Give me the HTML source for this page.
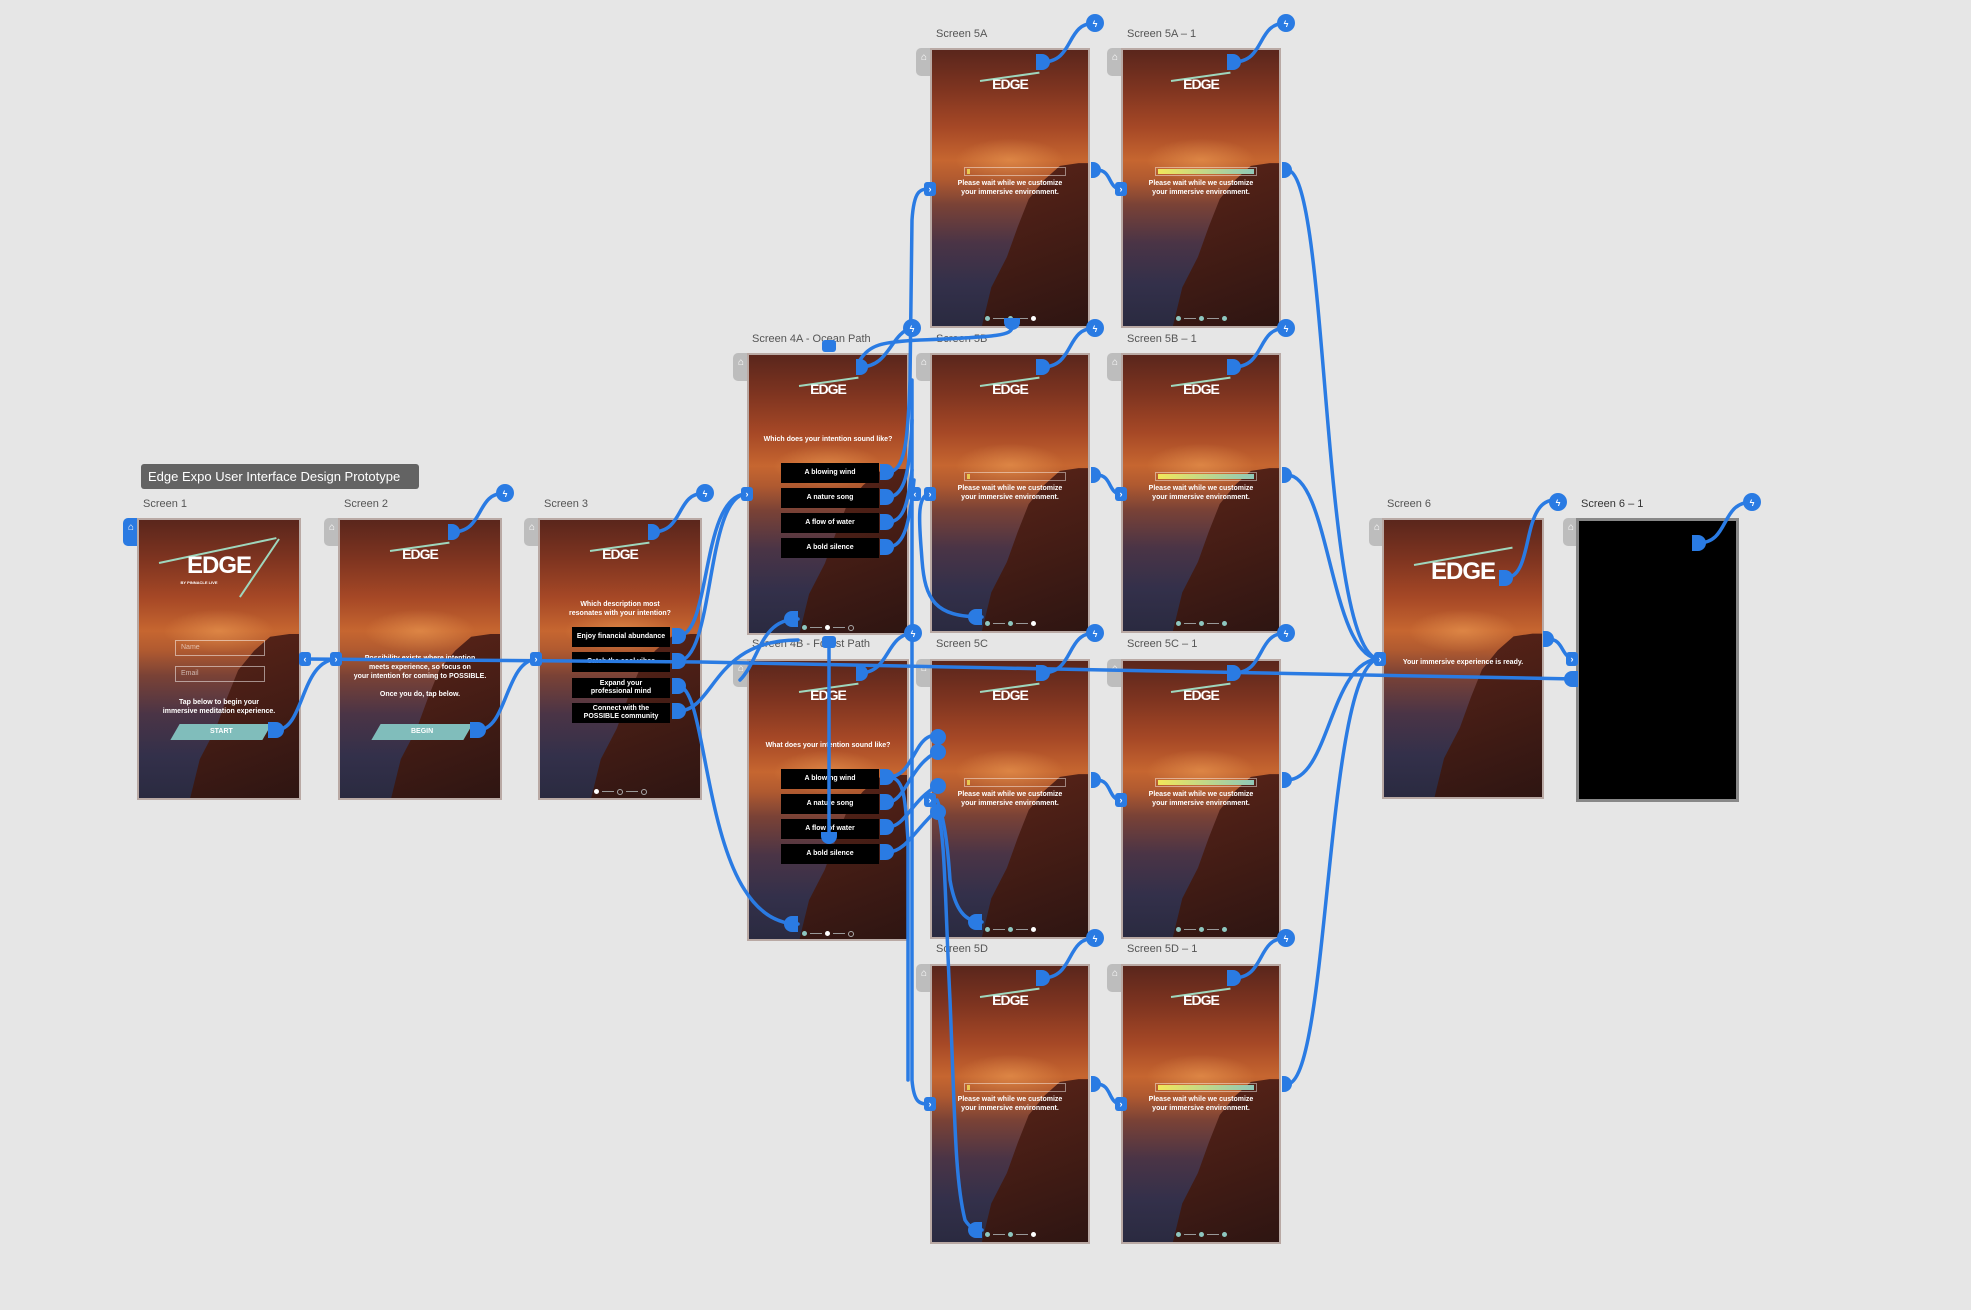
<!DOCTYPE html>
<html><head><meta charset="utf-8">
<style>
html,body{margin:0;padding:0}
body{width:1971px;height:1310px;background:#e6e6e6;position:relative;overflow:hidden;font-family:"Liberation Sans",sans-serif}
.lbl{position:absolute;font-size:11px;color:#555;white-space:nowrap}
.scr{position:absolute;width:160px;height:280px;overflow:hidden;border:2px solid #b9a9a4;box-sizing:border-box;
background:linear-gradient(180deg,#5a261c 0%,#7e3420 14%,#a64826 28%,#c66630 40%,#b05a30 47%,#7a4236 56%,#4a3446 70%,#33304a 85%,#2a2a40 100%)}
.scr .rock{position:absolute;left:0;top:0;width:100%;height:100%;
background:linear-gradient(160deg,#8a3a26 0%,#5a2418 40%,#2e1512 100%);
clip-path:polygon(94% 41%,82% 42%,72% 47%,62% 54%,55% 64%,48% 75%,38% 86%,32% 100%,100% 100%,100% 41%)}
.scr .glow{position:absolute;left:15%;top:32%;width:70%;height:16%;background:radial-gradient(ellipse at center,rgba(255,180,100,.4),rgba(255,150,60,0) 70%)}
.logo{position:absolute;left:0;width:100%;text-align:center;color:#fff;font-weight:bold;letter-spacing:-1px}
.slash{position:absolute;height:2px;background:#9fd7bd;transform-origin:left center}
.txt{position:absolute;left:0;width:100%;text-align:center;color:#fff;font-weight:bold;font-size:7px;line-height:9px}
.bar{position:absolute;left:32px;width:102px;height:9px;border:1px solid rgba(255,255,255,.45);box-sizing:border-box}
.bar i{position:absolute;left:2px;top:1px;bottom:1px;width:3px;background:#e8c850}
.bar.full i{width:96px;background:linear-gradient(90deg,#f2e75a,#8fc8b8)}
.dots{position:absolute;left:0;width:100%;top:260px;height:6px;text-align:center}
.dots span{display:inline-block;width:5px;height:5px;border-radius:50%;background:#8ec7c0;vertical-align:middle}
.dots em{display:inline-block;width:12px;height:1px;background:#999;vertical-align:middle;margin:0 3px}
.dots span.w{background:#fff}
.dots span.o{background:none;border:1px solid #aaa;width:4px;height:4px}
.btn{position:absolute;left:32px;width:98px;height:20px;background:#000;color:#fff;font-weight:bold;font-size:7px;line-height:20px;text-align:center}
.btn2{line-height:8px;padding-top:2px;box-sizing:border-box}
.home{position:absolute;width:16px;height:28px;background:#bdbdbd;border-radius:5px 0 0 5px;color:#fff;font-size:10px;text-align:center;line-height:20px}
.title{position:absolute;left:141px;top:464px;width:278px;height:25px;background:#636363;border-radius:3px;color:#fff;font-size:13px;line-height:25px;text-indent:7px;white-space:nowrap;overflow:hidden}
.field{position:absolute;left:36px;width:90px;height:16px;border:1px solid rgba(255,255,255,.5);box-sizing:border-box;color:rgba(255,255,255,.6);font-size:7px;line-height:14px;text-indent:5px}
.go{position:absolute;left:36px;width:92px;height:16px;background:#80bdbb;color:#fff;font-weight:bold;font-size:7px;line-height:16px;text-align:center;transform:skewX(-30deg)}
.go span{display:inline-block;transform:skewX(30deg)}
svg{position:absolute;left:0;top:0}
</style></head><body>

<div class="title">Edge Expo User Interface Design Prototype</div>

<div class="lbl" style="left:143px;top:498px">Screen 1</div>
<div class="lbl" style="left:344px;top:498px">Screen 2</div>
<div class="lbl" style="left:544px;top:498px">Screen 3</div>
<div class="lbl" style="left:752px;top:333px">Screen 4A - Ocean Path</div>
<div class="lbl" style="left:752px;top:638px">Screen 4B - Forest Path</div>
<div class="lbl" style="left:936px;top:28px">Screen 5A</div>
<div class="lbl" style="left:1127px;top:28px">Screen 5A – 1</div>
<div class="lbl" style="left:936px;top:333px">Screen 5B</div>
<div class="lbl" style="left:1127px;top:333px">Screen 5B – 1</div>
<div class="lbl" style="left:936px;top:638px">Screen 5C</div>
<div class="lbl" style="left:1127px;top:638px">Screen 5C – 1</div>
<div class="lbl" style="left:936px;top:943px">Screen 5D</div>
<div class="lbl" style="left:1127px;top:943px">Screen 5D – 1</div>
<div class="lbl" style="left:1387px;top:498px">Screen 6</div>
<div class="lbl" style="left:1581px;top:498px;color:#333">Screen 6 – 1</div>

<div class="home" style="left:123px;top:518px;background:#2a7ae2">⌂</div>
<div class="home" style="left:324px;top:518px">⌂</div>
<div class="home" style="left:524px;top:518px">⌂</div>
<div class="home" style="left:733px;top:353px">⌂</div>
<div class="home" style="left:733px;top:659px">⌂</div>
<div class="home" style="left:916px;top:48px">⌂</div>
<div class="home" style="left:1107px;top:48px">⌂</div>
<div class="home" style="left:916px;top:353px">⌂</div>
<div class="home" style="left:1107px;top:353px">⌂</div>
<div class="home" style="left:916px;top:659px">⌂</div>
<div class="home" style="left:1107px;top:659px">⌂</div>
<div class="home" style="left:916px;top:964px">⌂</div>
<div class="home" style="left:1107px;top:964px">⌂</div>
<div class="home" style="left:1369px;top:518px">⌂</div>
<div class="home" style="left:1563px;top:518px">⌂</div>

<div class="scr" style="left:137px;top:518px;width:164px;height:282px">
<div class="glow"></div><div class="rock"></div>
<div class="slash" style="left:20px;top:42px;width:120px;transform:rotate(-12deg)"></div>
<div class="slash" style="left:140px;top:18px;width:70px;transform:rotate(124deg)"></div>
<div class="logo" style="top:32px;font-size:24px">EDGE</div>
<div class="txt" style="top:58px;font-size:4px;left:-20px">BY PINNACLE LIVE</div>
<div class="field" style="top:120px">Name</div>
<div class="field" style="top:146px">Email</div>
<div class="txt" style="top:178px">Tap below to begin your<br>immersive meditation experience.</div>
<div class="go" style="top:204px"><span>START</span></div>
</div>

<div class="scr" style="left:338px;top:518px;width:164px;height:282px">
<div class="glow"></div><div class="rock"></div>
<div class="slash" style="left:50px;top:30px;width:60px;transform:rotate(-8deg)"></div>
<div class="logo" style="top:26px;font-size:14px">EDGE</div>
<div class="txt" style="top:134px">Possibility exists where intention<br>meets experience, so focus on<br>your intention for coming to POSSIBLE.<br><br>Once you do, tap below.</div>
<div class="go" style="top:204px"><span>BEGIN</span></div>
</div>

<div class="scr" style="left:538px;top:518px;width:164px;height:282px">
<div class="glow"></div><div class="rock"></div>
<div class="slash" style="left:50px;top:30px;width:60px;transform:rotate(-8deg)"></div>
<div class="logo" style="top:26px;font-size:14px">EDGE</div>
<div class="txt" style="top:80px">Which description most<br>resonates with your intention?</div>
<div class="btn" style="top:107px">Enjoy financial abundance</div>
<div class="btn" style="top:132px">Catch the cool vibes</div>
<div class="btn btn2" style="top:158px">Expand your<br>professional mind</div>
<div class="btn btn2" style="top:183px">Connect with the<br>POSSIBLE community</div>
<div class="dots" style="top:263px"><span class="w"></span><em></em><span class="o"></span><em></em><span class="o"></span></div>
</div>

<div class="scr" style="left:747px;top:353px;width:162px;height:282px">
<div class="glow"></div><div class="rock"></div>
<div class="slash" style="left:50px;top:30px;width:60px;transform:rotate(-8deg)"></div>
<div class="logo" style="top:26px;font-size:14px">EDGE</div>
<div class="txt" style="top:80px">Which does your intention sound like?</div>
<div class="btn" style="top:108px">A blowing wind</div>
<div class="btn" style="top:133px">A nature song</div>
<div class="btn" style="top:158px">A flow of water</div>
<div class="btn" style="top:183px">A bold silence</div>
<div class="dots" style="top:264px"><span></span><em></em><span class="w"></span><em></em><span class="o"></span></div>
</div>

<div class="scr" style="left:747px;top:659px;width:162px;height:282px">
<div class="glow"></div><div class="rock"></div>
<div class="slash" style="left:50px;top:30px;width:60px;transform:rotate(-8deg)"></div>
<div class="logo" style="top:26px;font-size:14px">EDGE</div>
<div class="txt" style="top:80px">What does your intention sound like?</div>
<div class="btn" style="top:108px">A blowing wind</div>
<div class="btn" style="top:133px">A nature song</div>
<div class="btn" style="top:158px">A flow of water</div>
<div class="btn" style="top:183px">A bold silence</div>
<div class="dots" style="top:264px"><span></span><em></em><span class="w"></span><em></em><span class="o"></span></div>
</div>

<div class="scr" style="left:930px;top:48px"><div class="glow"></div><div class="rock"></div><div class="slash" style="left:48px;top:30px;width:60px;transform:rotate(-8deg)"></div><div class="logo" style="top:26px;font-size:14px">EDGE</div><div class="bar" style="top:117px"><i></i></div><div class="txt" style="top:129px">Please wait while we customize<br>your immersive environment.</div><div class="dots"><span></span><em></em><span></span><em></em><span class="w"></span></div></div>
<div class="scr" style="left:1121px;top:48px"><div class="glow"></div><div class="rock"></div><div class="slash" style="left:48px;top:30px;width:60px;transform:rotate(-8deg)"></div><div class="logo" style="top:26px;font-size:14px">EDGE</div><div class="bar full" style="top:117px"><i></i></div><div class="txt" style="top:129px">Please wait while we customize<br>your immersive environment.</div><div class="dots"><span></span><em></em><span></span><em></em><span></span></div></div>
<div class="scr" style="left:930px;top:353px"><div class="glow"></div><div class="rock"></div><div class="slash" style="left:48px;top:30px;width:60px;transform:rotate(-8deg)"></div><div class="logo" style="top:26px;font-size:14px">EDGE</div><div class="bar" style="top:117px"><i></i></div><div class="txt" style="top:129px">Please wait while we customize<br>your immersive environment.</div><div class="dots"><span></span><em></em><span></span><em></em><span class="w"></span></div></div>
<div class="scr" style="left:1121px;top:353px"><div class="glow"></div><div class="rock"></div><div class="slash" style="left:48px;top:30px;width:60px;transform:rotate(-8deg)"></div><div class="logo" style="top:26px;font-size:14px">EDGE</div><div class="bar full" style="top:117px"><i></i></div><div class="txt" style="top:129px">Please wait while we customize<br>your immersive environment.</div><div class="dots"><span></span><em></em><span></span><em></em><span></span></div></div>
<div class="scr" style="left:930px;top:659px"><div class="glow"></div><div class="rock"></div><div class="slash" style="left:48px;top:30px;width:60px;transform:rotate(-8deg)"></div><div class="logo" style="top:26px;font-size:14px">EDGE</div><div class="bar" style="top:117px"><i></i></div><div class="txt" style="top:129px">Please wait while we customize<br>your immersive environment.</div><div class="dots"><span></span><em></em><span></span><em></em><span class="w"></span></div></div>
<div class="scr" style="left:1121px;top:659px"><div class="glow"></div><div class="rock"></div><div class="slash" style="left:48px;top:30px;width:60px;transform:rotate(-8deg)"></div><div class="logo" style="top:26px;font-size:14px">EDGE</div><div class="bar full" style="top:117px"><i></i></div><div class="txt" style="top:129px">Please wait while we customize<br>your immersive environment.</div><div class="dots"><span></span><em></em><span></span><em></em><span></span></div></div>
<div class="scr" style="left:930px;top:964px"><div class="glow"></div><div class="rock"></div><div class="slash" style="left:48px;top:30px;width:60px;transform:rotate(-8deg)"></div><div class="logo" style="top:26px;font-size:14px">EDGE</div><div class="bar" style="top:117px"><i></i></div><div class="txt" style="top:129px">Please wait while we customize<br>your immersive environment.</div><div class="dots"><span></span><em></em><span></span><em></em><span class="w"></span></div></div>
<div class="scr" style="left:1121px;top:964px"><div class="glow"></div><div class="rock"></div><div class="slash" style="left:48px;top:30px;width:60px;transform:rotate(-8deg)"></div><div class="logo" style="top:26px;font-size:14px">EDGE</div><div class="bar full" style="top:117px"><i></i></div><div class="txt" style="top:129px">Please wait while we customize<br>your immersive environment.</div><div class="dots"><span></span><em></em><span></span><em></em><span></span></div></div>

<div class="scr" style="left:1382px;top:518px;width:162px;height:281px">
<div class="glow"></div><div class="rock"></div>
<div class="slash" style="left:30px;top:44px;width:100px;transform:rotate(-10deg)"></div>
<div class="logo" style="top:38px;font-size:24px">EDGE</div>
<div class="txt" style="top:138px">Your immersive experience is ready.</div>
</div>

<div style="position:absolute;left:1576px;top:518px;width:163px;height:284px;background:#000;border:3px solid #888;box-sizing:border-box"></div>

<svg width="1971" height="1310" viewBox="0 0 1971 1310">
<g fill="none" stroke="#2a7be3" stroke-width="3.5" stroke-linecap="round">
<path d="M305 659 L700 662 L1000 668 L1576 679"/>
<path d="M276 730 C305 730 300 659 338 659"/>
<path d="M478 730 C508 730 505 659 538 659"/>
<path d="M678 636 C712 636 700 494 747 494"/>
<path d="M678 661 C715 661 705 494 747 494"/>
<path d="M678 686 C712 686 700 924 798 924"/>
<path d="M678 711 C715 711 712 640 798 640"/>
<path d="M798 619 C760 619 760 660 740 680"/>
<path d="M888 472 C905 472 908 440 910 380 L912 220 C914 190 920 189 930 189"/>
<path d="M888 497 C905 497 910 470 912 420"/>
<path d="M888 522 C905 522 908 500 912 470"/>
<path d="M888 547 C905 547 910 520 914 480"/>
<path d="M912 380 L912 1080 C914 1104 920 1104 930 1104"/>
<path d="M888 777 C905 777 910 760 920 745 C925 738 930 735 937 735"/>
<path d="M888 802 C905 802 910 765 937 752"/>
<path d="M888 827 C905 827 912 800 937 786"/>
<path d="M888 852 C905 852 915 830 937 810"/>
<path d="M888 777 C905 777 905 800 908 840 L908 1080"/>
<path d="M937 810 C945 830 945 900 950 1000 C955 1120 955 1180 965 1220 C970 1228 975 1230 982 1230"/>
<path d="M937 800 C945 820 948 850 950 880 C955 910 965 922 982 922"/>
<path d="M930 494 C915 494 920 530 922 560 C925 600 935 617 982 617"/>
<path d="M829 645 L829 840"/>
<path d="M1012 327 C1012 335 1000 337 920 340 C880 342 870 345 860 360"/>
<path d="M1097 170 C1112 170 1108 189 1121 189"/>
<path d="M1097 475 C1112 475 1108 494 1121 494"/>
<path d="M1097 780 C1112 780 1108 800 1121 800"/>
<path d="M1097 1084 C1112 1084 1108 1104 1121 1104"/>
<path d="M1287 170 C1330 170 1320 659 1380 659"/>
<path d="M1287 475 C1330 475 1330 659 1380 659"/>
<path d="M1287 780 C1330 780 1330 659 1380 659"/>
<path d="M1287 1084 C1330 1084 1325 659 1380 659"/>
<path d="M1548 639 C1565 639 1560 659 1576 659"/>
<path d="M1042 62 C1075 62 1065 23 1095 23"/>
<path d="M1233 62 C1266 62 1256 23 1286 23"/>
<path d="M1042 367 C1075 367 1065 328 1095 328"/>
<path d="M1233 367 C1266 367 1256 328 1286 328"/>
<path d="M1042 673 C1075 673 1065 633 1095 633"/>
<path d="M1233 673 C1266 673 1256 633 1286 633"/>
<path d="M1042 978 C1075 978 1065 938 1095 938"/>
<path d="M1233 978 C1266 978 1256 938 1286 938"/>
<path d="M452 532 C485 532 475 493 505 493"/>
<path d="M652 532 C685 532 675 493 705 493"/>
<path d="M860 367 C890 367 890 333 912 328"/>
<path d="M860 673 C890 673 885 635 913 633"/>
<path d="M1505 578 C1535 578 1520 500 1555 500"/>
<path d="M1698 543 C1730 543 1720 502 1752 502"/>
</g>
<g fill="#2a7be3">
<path d="M268 722 h8 a8 8 0 0 1 0 16 h-8z"/>
<path d="M470 722 h8 a8 8 0 0 1 0 16 h-8z"/>
<path d="M448 524 h4 a8 8 0 0 1 0 16 h-4z"/>
<path d="M648 524 h4 a8 8 0 0 1 0 16 h-4z"/>
<path d="M672 628 h6 a8 8 0 0 1 0 16 h-6z"/><path d="M672 653 h6 a8 8 0 0 1 0 16 h-6z"/>
<path d="M672 678 h6 a8 8 0 0 1 0 16 h-6z"/><path d="M672 703 h6 a8 8 0 0 1 0 16 h-6z"/>
<path d="M880 464 h6 a8 8 0 0 1 0 16 h-6z"/><path d="M880 489 h6 a8 8 0 0 1 0 16 h-6z"/>
<path d="M880 514 h6 a8 8 0 0 1 0 16 h-6z"/><path d="M880 539 h6 a8 8 0 0 1 0 16 h-6z"/>
<path d="M880 769 h6 a8 8 0 0 1 0 16 h-6z"/><path d="M880 794 h6 a8 8 0 0 1 0 16 h-6z"/>
<path d="M880 819 h6 a8 8 0 0 1 0 16 h-6z"/><path d="M880 844 h6 a8 8 0 0 1 0 16 h-6z"/>
<path d="M856 359 h4 a8 8 0 0 1 0 16 h-4z"/>
<path d="M856 665 h4 a8 8 0 0 1 0 16 h-4z"/>
<path d="M1036 54 h6 a8 8 0 0 1 0 16 h-6z"/><path d="M1227 54 h6 a8 8 0 0 1 0 16 h-6z"/>
<path d="M1036 359 h6 a8 8 0 0 1 0 16 h-6z"/><path d="M1227 359 h6 a8 8 0 0 1 0 16 h-6z"/>
<path d="M1036 665 h6 a8 8 0 0 1 0 16 h-6z"/><path d="M1227 665 h6 a8 8 0 0 1 0 16 h-6z"/>
<path d="M1036 970 h6 a8 8 0 0 1 0 16 h-6z"/><path d="M1227 970 h6 a8 8 0 0 1 0 16 h-6z"/>
<path d="M1091 162 h2 a8 8 0 0 1 0 16 h-2z"/><path d="M1282 162 h2 a8 8 0 0 1 0 16 h-2z"/>
<path d="M1091 467 h2 a8 8 0 0 1 0 16 h-2z"/><path d="M1282 467 h2 a8 8 0 0 1 0 16 h-2z"/>
<path d="M1091 772 h2 a8 8 0 0 1 0 16 h-2z"/><path d="M1282 772 h2 a8 8 0 0 1 0 16 h-2z"/>
<path d="M1091 1076 h2 a8 8 0 0 1 0 16 h-2z"/><path d="M1282 1076 h2 a8 8 0 0 1 0 16 h-2z"/>
<path d="M1499 570 h6 a8 8 0 0 1 0 16 h-6z"/>
<path d="M1692 535 h6 a8 8 0 0 1 0 16 h-6z"/>
<path d="M1543 631 h3 a8 8 0 0 1 0 16 h-3z"/>
<path d="M1004 318 h16 v4 a8 8 0 0 1 -16 0z"/>
<path d="M976 609 h6 v16 h-6 a8 8 0 0 1 0 -16z"/>
<path d="M976 914 h6 v16 h-6 a8 8 0 0 1 0 -16z"/>
<path d="M976 1222 h6 v16 h-6 a8 8 0 0 1 0 -16z"/>
<path d="M792 611 h6 v16 h-6 a8 8 0 0 1 0 -16z"/>
<path d="M792 916 h6 v16 h-6 a8 8 0 0 1 0 -16z"/>
<path d="M821 832 h16 v4 a8 8 0 0 1 -16 0z"/>
<path d="M1572 671 h6 v16 h-6 a8 8 0 0 1 0 -16z"/>
<rect x="299" y="652" width="12" height="14" rx="3"/>
<rect x="330" y="652" width="12" height="14" rx="3"/>
<rect x="530" y="652" width="12" height="14" rx="3"/>
<rect x="741" y="487" width="12" height="14" rx="3"/>
<rect x="909" y="487" width="12" height="14" rx="3"/>
<rect x="924" y="182" width="12" height="14" rx="3"/><rect x="1115" y="182" width="12" height="14" rx="3"/>
<rect x="924" y="487" width="12" height="14" rx="3"/><rect x="1115" y="487" width="12" height="14" rx="3"/>
<rect x="924" y="793" width="12" height="14" rx="3"/><rect x="1115" y="793" width="12" height="14" rx="3"/>
<rect x="924" y="1097" width="12" height="14" rx="3"/><rect x="1115" y="1097" width="12" height="14" rx="3"/>
<rect x="1374" y="652" width="12" height="14" rx="3"/>
<rect x="1566" y="652" width="12" height="14" rx="3"/>
<rect x="822" y="340" width="14" height="12" rx="3"/>
<rect x="822" y="636" width="14" height="12" rx="3"/>
<circle cx="1095" cy="23" r="9"/><circle cx="1286" cy="23" r="9"/>
<circle cx="1095" cy="328" r="9"/><circle cx="1286" cy="328" r="9"/>
<circle cx="1095" cy="633" r="9"/><circle cx="1286" cy="633" r="9"/>
<circle cx="1095" cy="938" r="9"/><circle cx="1286" cy="938" r="9"/>
<circle cx="505" cy="493" r="9"/><circle cx="705" cy="493" r="9"/>
<circle cx="912" cy="328" r="9"/><circle cx="913" cy="633" r="9"/>
<circle cx="1558" cy="502" r="9"/><circle cx="1752" cy="502" r="9"/>
<circle cx="938" cy="737" r="8"/><circle cx="938" cy="752" r="8"/>
<circle cx="938" cy="786" r="8"/><circle cx="938" cy="812" r="8"/>
</g>
<g fill="#fff" font-size="9" font-family="Liberation Sans, DejaVu Sans, sans-serif" text-anchor="middle" font-weight="bold">
<text x="1095" y="27">ϟ</text><text x="1286" y="27">ϟ</text>
<text x="1095" y="332">ϟ</text><text x="1286" y="332">ϟ</text>
<text x="1095" y="637">ϟ</text><text x="1286" y="637">ϟ</text>
<text x="1095" y="942">ϟ</text><text x="1286" y="942">ϟ</text>
<text x="505" y="497">ϟ</text><text x="705" y="497">ϟ</text>
<text x="912" y="332">ϟ</text><text x="913" y="637">ϟ</text>
<text x="1558" y="506">ϟ</text><text x="1752" y="506">ϟ</text>
<text x="305" y="662">‹</text><text x="336" y="662">›</text><text x="536" y="662">›</text>
<text x="747" y="497">›</text><text x="915" y="497">‹</text>
<text x="930" y="192">›</text><text x="1121" y="192">›</text>
<text x="930" y="497">›</text><text x="1121" y="497">›</text>
<text x="930" y="803">›</text><text x="1121" y="803">›</text>
<text x="930" y="1107">›</text><text x="1121" y="1107">›</text>
<text x="1380" y="662">›</text><text x="1572" y="662">›</text>
</g>
</svg>
</body></html>
